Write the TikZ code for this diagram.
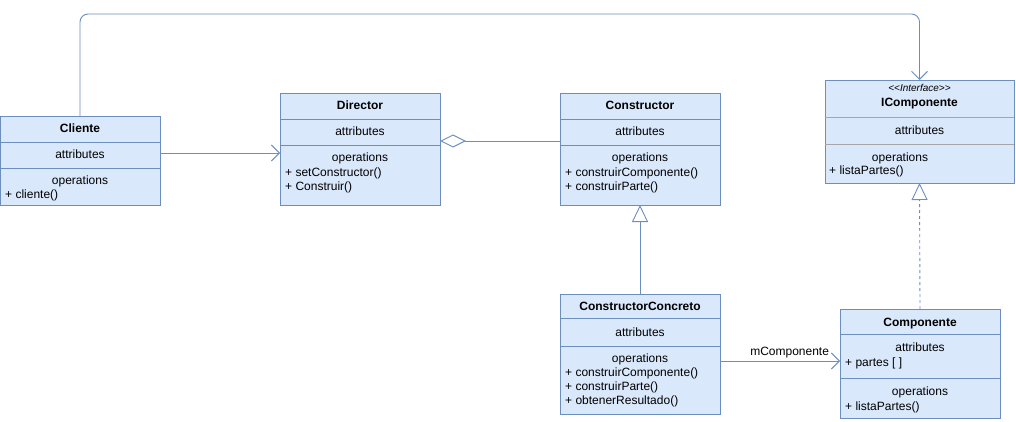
\documentclass[tikz,border=0pt]{standalone}
\usepackage{fontspec}
\setmainfont{Liberation Sans}
\usetikzlibrary{arrows.meta}
\definecolor{boxfill}{HTML}{DAE8FC}
\definecolor{boxline}{HTML}{6C8EBF}
\tikzset{
  cls/.style={draw=boxline, fill=boxfill, line width=0.9pt, anchor=north west, inner sep=0pt, outer sep=0pt},
  sep/.style={draw=boxline, line width=0.9pt},
  isep/.style={draw=gray!70, line width=0.9pt},
  txt/.style={inner sep=0pt, text height=10pt, text depth=2pt, font=\fontsize{12}{14}\selectfont},
  ttl/.style={txt, font=\fontsize{12}{14}\selectfont\bfseries},
  lft/.style={txt, anchor=west},
  conn/.style={draw=boxline, line width=0.9pt},
  assoc/.style={conn, -{Straight Barb[length=8pt,width=16pt,line width=0.9pt]}},
  inh/.style={conn, -{Triangle[open, length=17pt, width=16pt, fill=white]}},
  aggr/.style={conn, {Diamond[open, length=26pt, width=13pt, fill=white]}-}
}
\begin{document}
\begin{tikzpicture}[x=1pt,y=-1pt]
\useasboundingbox (0,0) rectangle (1016,422);

% Cliente
\node[cls, minimum width=160, minimum height=89] (cli) at (0,116) {};
\draw[sep] (0,142) -- (160,142);
\draw[sep] (0,168) -- (160,168);
\node[ttl] (cliT) at (80,129) {Cliente};
\node[txt] (cliA) at (80,155) {attributes};
\node[txt] (cliO) at (80,180) {operations};
\node[lft] (cliO1) at (5,194) {+ cliente()};

% Director
\node[cls, minimum width=160, minimum height=112] (dir) at (280,93) {};
\draw[sep] (280,119) -- (440,119);
\draw[sep] (280,145) -- (440,145);
\node[ttl] (dirT) at (360,106) {Director};
\node[txt] (dirA) at (360,132) {attributes};
\node[txt] (dirO) at (360,158) {operations};
\node[lft] (dirO1) at (285,172) {+ setConstructor()};
\node[lft] (dirO2) at (285,186) {+ Construir()};

% Constructor
\node[cls, minimum width=160, minimum height=112] (con) at (560,93) {};
\draw[sep] (560,119) -- (720,119);
\draw[sep] (560,145) -- (720,145);
\node[ttl] (conT) at (640,106) {Constructor};
\node[txt] (conA) at (640,132) {attributes};
\node[txt] (conO) at (640,158) {operations};
\node[lft] (conO1) at (565,172) {+ construirComponente()};
\node[lft] (conO2) at (565,186) {+ construirParte()};

% IComponente
\node[cls, minimum width=189, minimum height=103] (ico) at (825,80) {};
\draw[isep] (825,117.5) -- (1014,117.5);
\draw[isep] (825,144.5) -- (1014,144.5);
\node[txt, font=\fontsize{10}{11}\selectfont\itshape, text height=8pt, text depth=2pt] (icoS) at (919.5,89) {<{}<Interface>{}>};
\node[ttl] (icoT) at (919.5,103) {IComponente};
\node[txt] (icoA) at (919.5,131) {attributes};
\node[txt] (icoO) at (900,157) {operations};
\node[lft] (icoO1) at (829,171) {+ listaPartes()};

% ConstructorConcreto
\node[cls, minimum width=160, minimum height=120] (cc) at (560,294) {};
\draw[sep] (560,318) -- (720,318);
\draw[sep] (560,346) -- (720,346);
\node[ttl] (ccT) at (640,306) {ConstructorConcreto};
\node[txt] (ccA) at (640,332) {attributes};
\node[txt] (ccO) at (640,358) {operations};
\node[lft] (ccO1) at (565,372) {+ construirComponente()};
\node[lft] (ccO2) at (565,386) {+ construirParte()};
\node[lft] (ccO3) at (565,400) {+ obtenerResultado()};

% Componente
\node[cls, minimum width=160, minimum height=109] (comp) at (840,309) {};
\draw[sep] (840,334) -- (1000,334);
\draw[sep] (840,378) -- (1000,378);
\node[ttl] (compT) at (920,322) {Componente};
\node[txt] (compA) at (920,347) {attributes};
\node[lft] (compA1) at (845,362) {+ partes [ ]};
\node[txt] (compO) at (920,391) {operations};
\node[lft] (compO1) at (845,406) {+ listaPartes()};

% connectors
\coordinate (topy) at (0,14);
\draw[assoc, rounded corners=8pt] (cli.north) -- (cli.north |- topy) -| (ico.north);
\draw[assoc] (cli.east |- 0,153) -- (dir.west |- 0,153);
\draw[aggr] (dir.east |- 0,141) -- (con.west |- 0,141);
\draw[inh] (cc.north) -- (con.south);
\draw[inh, dashed, dash pattern=on 3pt off 3pt] (comp.north) -- (ico.south);
\draw[assoc] (cc.east |- 0,361) -- node[pos=0.58, above=3pt, txt] (lbl) {mComponente} (comp.west |- 0,361);
\end{tikzpicture}
\end{document}
